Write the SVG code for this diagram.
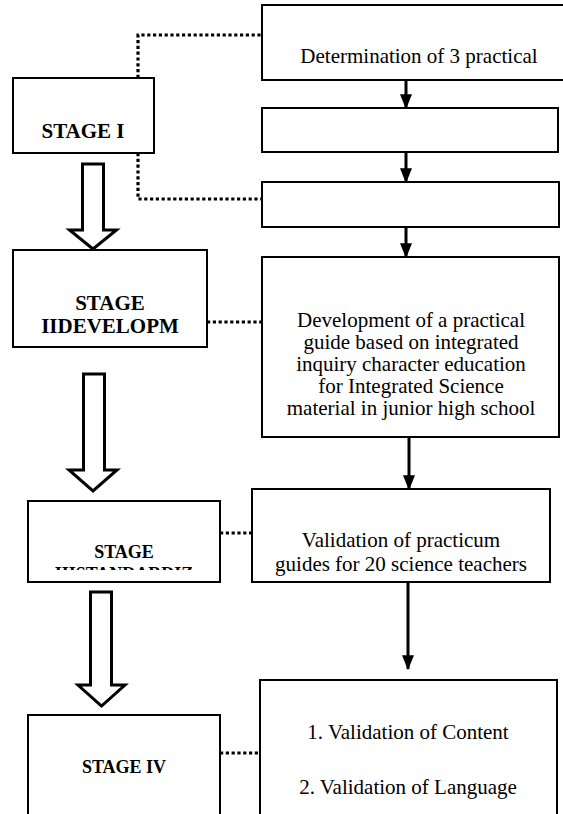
<svg xmlns="http://www.w3.org/2000/svg" width="563" height="814" viewBox="0 0 563 814">
<style>
.box{fill:#fff;stroke:#000;stroke-width:2}
.t{font-family:"Liberation Serif","Times New Roman",serif;font-size:21px;fill:#000;text-anchor:middle}
.b{font-family:"Liberation Serif","Times New Roman",serif;font-weight:bold;fill:#000;text-anchor:middle}
.dot{fill:none;stroke:#000;stroke-width:3.2;stroke-dasharray:3.2 2.6}
.arr{fill:none;stroke:#000;stroke-width:3;marker-end:url(#ah)}
.hol{fill:#fff;stroke:#000;stroke-width:3;stroke-linejoin:miter}
</style>
<defs>
<marker id="ah" markerWidth="5" markerHeight="4" refX="4.6" refY="2" orient="auto" markerUnits="strokeWidth">
<path d="M0,0 L5,2 L0,4 Z" fill="#000"/>
</marker>
<clipPath id="c3"><rect x="28" y="501" width="192" height="69"/></clipPath>
</defs>
<g id="connectors">
<path class="dot" d="M138,78 V35 H262"/>
<path class="dot" d="M138,153 V199 H262"/>
<path class="dot" d="M207,322 H262"/>
<path class="dot" d="M220,533 H252"/>
<path class="dot" d="M220,753 H260"/>
<line class="arr" x1="406" y1="80" x2="406" y2="108"/>
<line class="arr" x1="406" y1="152" x2="406" y2="182"/>
<line class="arr" x1="406" y1="227" x2="406" y2="257"/>
<line class="arr" x1="409" y1="437" x2="409" y2="489"/>
<line class="arr" x1="408" y1="582" x2="408" y2="669"/>
<path class="hol" d="M82.5,164 H103.5 V230 H116.5 L93,249 L69.5,230 H82.5 Z"/>
<path class="hol" d="M83.5,374 H104.5 V470 H117 L93,491 L69,470 H83.5 Z"/>
<path class="hol" d="M90.5,592 H111.5 V685 H125 L101.5,706 L78,685 H90.5 Z"/>
</g>
<g id="n1">
<rect class="box" x="262" y="5" width="310" height="75"/>
<text class="t" x="419" y="63">Determination of  3 practical</text>
</g>
<g id="n2"><rect class="box" x="262" y="108" width="296" height="44"/></g>
<g id="n3"><rect class="box" x="262" y="182" width="297" height="45"/></g>
<g id="n4">
<rect class="box" x="262" y="257" width="297" height="180"/>
<text class="t" x="411" y="327">Development of a practical</text>
<text class="t" x="411" y="349">guide based on integrated</text>
<text class="t" x="411" y="371">inquiry character education</text>
<text class="t" x="411" y="393">for Integrated Science</text>
<text class="t" x="411" y="415">material in junior high school</text>
</g>
<g id="n5">
<rect class="box" x="252" y="489" width="298" height="93"/>
<text class="t" x="401" y="547">Validation of practicum</text>
<text class="t" x="401" y="571">guides for 20 science teachers</text>
</g>
<g id="n6">
<rect class="box" x="260" y="680" width="297" height="150"/>
<text class="t" x="408" y="739">1. Validation of Content</text>
<text class="t" x="408" y="794">2. Validation of Language</text>
</g>
<g id="s1">
<rect class="box" x="13" y="78" width="141" height="75"/>
<text class="b" x="83" y="138" font-size="21">STAGE I</text>
</g>
<g id="s2">
<rect class="box" x="13" y="250" width="194" height="97"/>
<text class="b" x="110" y="310" font-size="21">STAGE</text>
<text class="b" x="110" y="333" font-size="21">IIDEVELOPM</text>
</g>
<g id="s3">
<rect class="box" x="28" y="501" width="192" height="81"/>
<text class="b" x="124" y="558" font-size="18">STAGE</text>
<text class="b" x="124" y="580" font-size="18" clip-path="url(#c3)">IIISTANDARDIZ</text>
</g>
<g id="s4">
<rect class="box" x="28" y="715" width="192" height="115"/>
<text class="b" x="124" y="773" font-size="18">STAGE IV</text>
</g>
</svg>
